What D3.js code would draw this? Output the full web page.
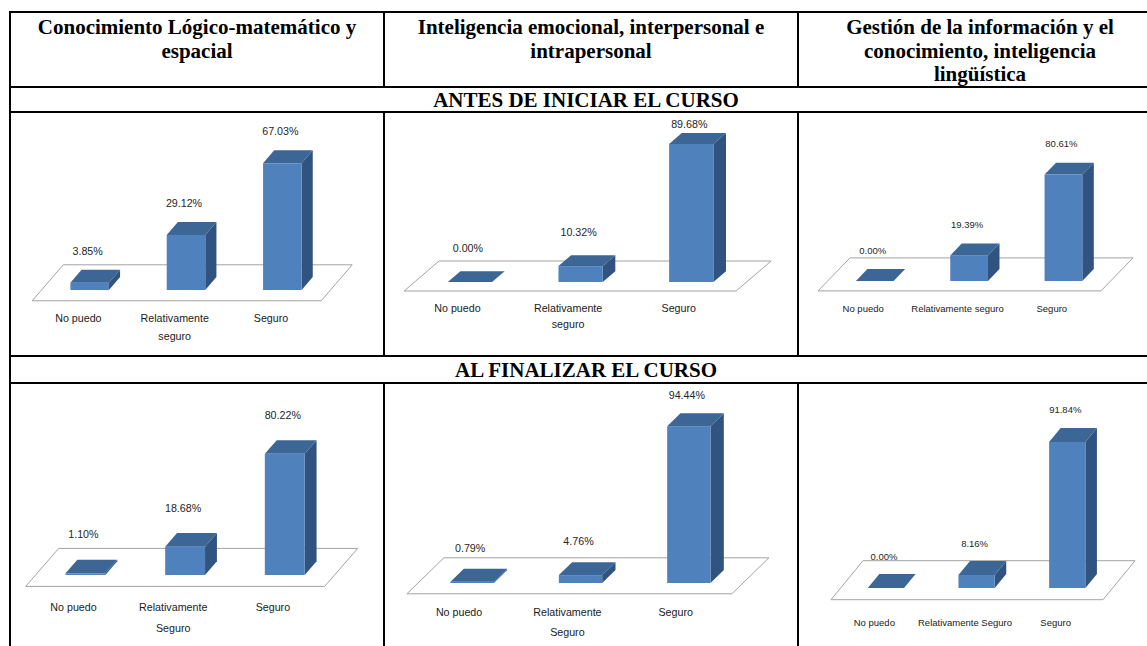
<!DOCTYPE html>
<html>
<head>
<meta charset="utf-8">
<script src="https://cdn.jsdelivr.net/npm/d3@7"></script>
<style>
  body { margin: 0; background: #fff; }
  svg { display: block; }
</style>
</head>
<body>
<div id="graph"></div>
<script>
const WIDTH = 1147, HEIGHT = 646;

// table texts
const headerLogico = ["Conocimiento Lógico-matemático y", "espacial"];
const headerEmocional = ["Inteligencia emocional, interpersonal e", "intrapersonal"];
const headerGestion = ["Gestión de la información y el", "conocimiento, inteligencia", "lingüística"];
const stages = ["ANTES DE INICIAR EL CURSO", "AL FINALIZAR EL CURSO"];

// categories
const catsAntes = ["No puedo", "Relativamente seguro", "Seguro"];
const catsFinal = ["No puedo", "Relativamente Seguro", "Seguro"];

// values (%)
const logicoAntes = [3.85, 29.12, 67.03];
const emocionalAntes = [0.00, 10.32, 89.68];
const gestionAntes = [0.00, 19.39, 80.61];
const logicoFinal = [1.10, 18.68, 80.22];
const emocionalFinal = [0.79, 4.76, 94.44];
const gestionFinal = [0.00, 8.16, 91.84];

// table grid
const COLS = [10, 384, 798, 1162];
const ROWS = [12, 87, 112, 356, 383, 660];

// layout of each small 3d chart (front plane of the bars)
const charts = [
  {values: logicoAntes, cats: catsAntes, L: 41.5, R: 330.5, base: 290, vx: 31, vy: -36, h100: 189, gap: 32, catGap: 17, lineH: 18, fs: 10.7, wrapW: 80, top: ROWS[2]},
  {values: emocionalAntes, cats: catsAntes, L: 414.6, R: 746.6, base: 282, vx: 35, vy: -30, h100: 154, gap: 34, catGap: 17, lineH: 15.5, fs: 10.7, wrapW: 80, top: ROWS[2]},
  {values: gestionAntes, cats: catsAntes, L: 827.6, R: 1110.6, base: 281, vx: 32, vy: -33, h100: 132, gap: 31, catGap: 17, lineH: 16, fs: 9.5, wrapW: 200, top: ROWS[2]},
  {values: logicoFinal, cats: catsFinal, L: 35.6, R: 334.6, base: 575, vx: 33, vy: -38, h100: 151, gap: 39, catGap: 21, lineH: 21, fs: 10.7, wrapW: 80, top: ROWS[4]},
  {values: emocionalFinal, cats: catsFinal, L: 418, R: 743, base: 583, vx: 37, vy: -36, h100: 166, gap: 34, catGap: 18, lineH: 20, fs: 10.7, wrapW: 80, top: ROWS[4]},
  {values: gestionFinal, cats: catsFinal, L: 840.6, R: 1112.6, base: 588, vx: 32, vy: -39, h100: 159, gap: 32, catGap: 22, lineH: 16, fs: 9.5, wrapW: 200, top: ROWS[4]}
];

const FRONT = "#4f81bd", TOP = "#3c6696", SIDE = "#30537f";
const FLOOR_FRONT = 0.3, BAR_DEPTH = 0.36;

const svg = d3.select("#graph").append("svg")
  .attr("width", WIDTH)
  .attr("height", HEIGHT);

svg.append("rect").attr("width", WIDTH).attr("height", HEIGHT).attr("fill", "#fff");

// ---- table lines
const grid = svg.append("g").attr("stroke", "#000").attr("stroke-width", 2);
ROWS.forEach(function(y) {
  grid.append("line").attr("x1", COLS[0] - 1).attr("x2", COLS[3]).attr("y1", y).attr("y2", y);
});
grid.append("line").attr("x1", COLS[0]).attr("x2", COLS[0]).attr("y1", ROWS[0]).attr("y2", ROWS[5]);
grid.append("line").attr("x1", COLS[3]).attr("x2", COLS[3]).attr("y1", ROWS[0]).attr("y2", ROWS[5]);
[1, 2].forEach(function(c) {
  [[0, 1], [2, 3], [4, 5]].forEach(function(r) {
    grid.append("line").attr("x1", COLS[c]).attr("x2", COLS[c])
      .attr("y1", ROWS[r[0]]).attr("y2", ROWS[r[1]]);
  });
});

// ---- headers
const serif = "'Liberation Serif', 'Times New Roman', serif";
[headerLogico, headerEmocional, headerGestion].forEach(function(lines, c) {
  svg.append("text")
    .attr("font-family", serif)
    .attr("font-weight", "bold")
    .attr("font-size", "21px")
    .attr("text-anchor", "middle")
    .selectAll("tspan")
    .data(lines)
    .enter()
    .append("tspan")
      .attr("x", (COLS[c] + COLS[c + 1]) / 2)
      .attr("y", function(d, i) { return 34 + i * 23.5; })
      .text(function(d) { return d; });
});

stages.forEach(function(s, i) {
  const r = i == 0 ? 1 : 3;
  svg.append("text")
    .attr("x", (COLS[0] + COLS[3]) / 2)
    .attr("y", (ROWS[r] + ROWS[r + 1]) / 2 + 7)
    .attr("font-family", serif)
    .attr("font-weight", "bold")
    .attr("font-size", "21px")
    .attr("text-anchor", "middle")
    .text(s);
});

// ---- charts
function drawChart(c) {
  const g = svg.append("g");
  const x = d3.scaleBand()
    .domain(c.cats)
    .range([c.L, c.R])
    .paddingInner(0.6)
    .paddingOuter(0.3);
  const y = d3.scaleLinear()
    .domain([0, 100])
    .range([c.base, c.base - c.h100]);

  const dx = c.vx * BAR_DEPTH, dy = c.vy * BAR_DEPTH;
  const fx0 = -c.vx * FLOOR_FRONT, fy0 = -c.vy * FLOOR_FRONT;
  const fx1 = c.vx * (1 - FLOOR_FRONT), fy1 = c.vy * (1 - FLOOR_FRONT);
  const y0 = y(0);

  // floor
  g.append("path")
    .attr("d", d3.line()([
      [c.L + fx0, y0 + fy0], [c.R + fx0, y0 + fy0],
      [c.R + fx1, y0 + fy1], [c.L + fx1, y0 + fy1]
    ]) + "Z")
    .attr("fill", "#fff")
    .attr("stroke", "#a3a3a3")
    .attr("stroke-width", 1);

  const data = c.cats.map(function(k, i) { return {key: k, value: c.values[i]}; });

  const bars = g.selectAll("g.bar")
    .data(data)
    .enter()
    .append("g")
    .attr("class", "bar");

  bars.append("path")
    .attr("fill", SIDE)
    .attr("d", function(d) {
      const x1 = x(d.key) + x.bandwidth(), yt = y(d.value);
      return d3.line()([[x1, y0], [x1 + dx, y0 + dy], [x1 + dx, yt + dy], [x1, yt]]) + "Z";
    });

  bars.append("rect")
    .attr("fill", FRONT)
    .attr("x", function(d) { return x(d.key); })
    .attr("y", function(d) { return y(d.value); })
    .attr("width", x.bandwidth())
    .attr("height", function(d) { return y0 - y(d.value); });

  bars.append("path")
    .attr("fill", TOP)
    .attr("d", function(d) {
      const x0 = x(d.key), x1 = x0 + x.bandwidth(), yt = y(d.value);
      return d3.line()([[x0, yt], [x1, yt], [x1 + dx, yt + dy], [x0 + dx, yt + dy]]) + "Z";
    });

  // value labels
  g.selectAll("text.val")
    .data(data)
    .enter()
    .append("text")
      .attr("class", "val")
      .attr("x", function(d) { return x(d.key) + x.bandwidth() / 2 - 2; })
      .attr("y", function(d) { return Math.max(c.top + 12, y(d.value) - c.gap); })
      .attr("dominant-baseline", "central")
      .attr("text-anchor", "middle")
      .attr("font-family", "'Liberation Sans', Arial, sans-serif")
      .attr("font-size", c.fs + "px")
      .attr("fill", "#262626")
      .text(function(d) { return d.value.toFixed(2) + "%"; });

  // category labels (wrapped when too wide)
  const cy = y0 + fy0 + c.catGap;
  data.forEach(function(d) {
    const cx = x(d.key) + x.bandwidth() / 2 + fx0 - 2;
    const t = g.append("text")
      .attr("text-anchor", "middle")
      .attr("dominant-baseline", "central")
      .attr("font-family", "'Liberation Sans', Arial, sans-serif")
      .attr("font-size", c.fs + "px")
      .attr("fill", "#1a1a1a");
    const words = d.key.split(" ");
    let lines = [d.key];
    t.text(d.key);
    if (t.node().getComputedTextLength() > c.wrapW && words.length > 1) {
      lines = [words.slice(0, -1).join(" "), words[words.length - 1]];
    }
    t.text(null);
    t.selectAll("tspan")
      .data(lines)
      .enter()
      .append("tspan")
        .attr("x", cx)
        .attr("y", function(l, i) { return cy + i * c.lineH; })
        .text(function(l) { return l; });
  });
}

charts.forEach(drawChart);
</script>
</body>
</html>
